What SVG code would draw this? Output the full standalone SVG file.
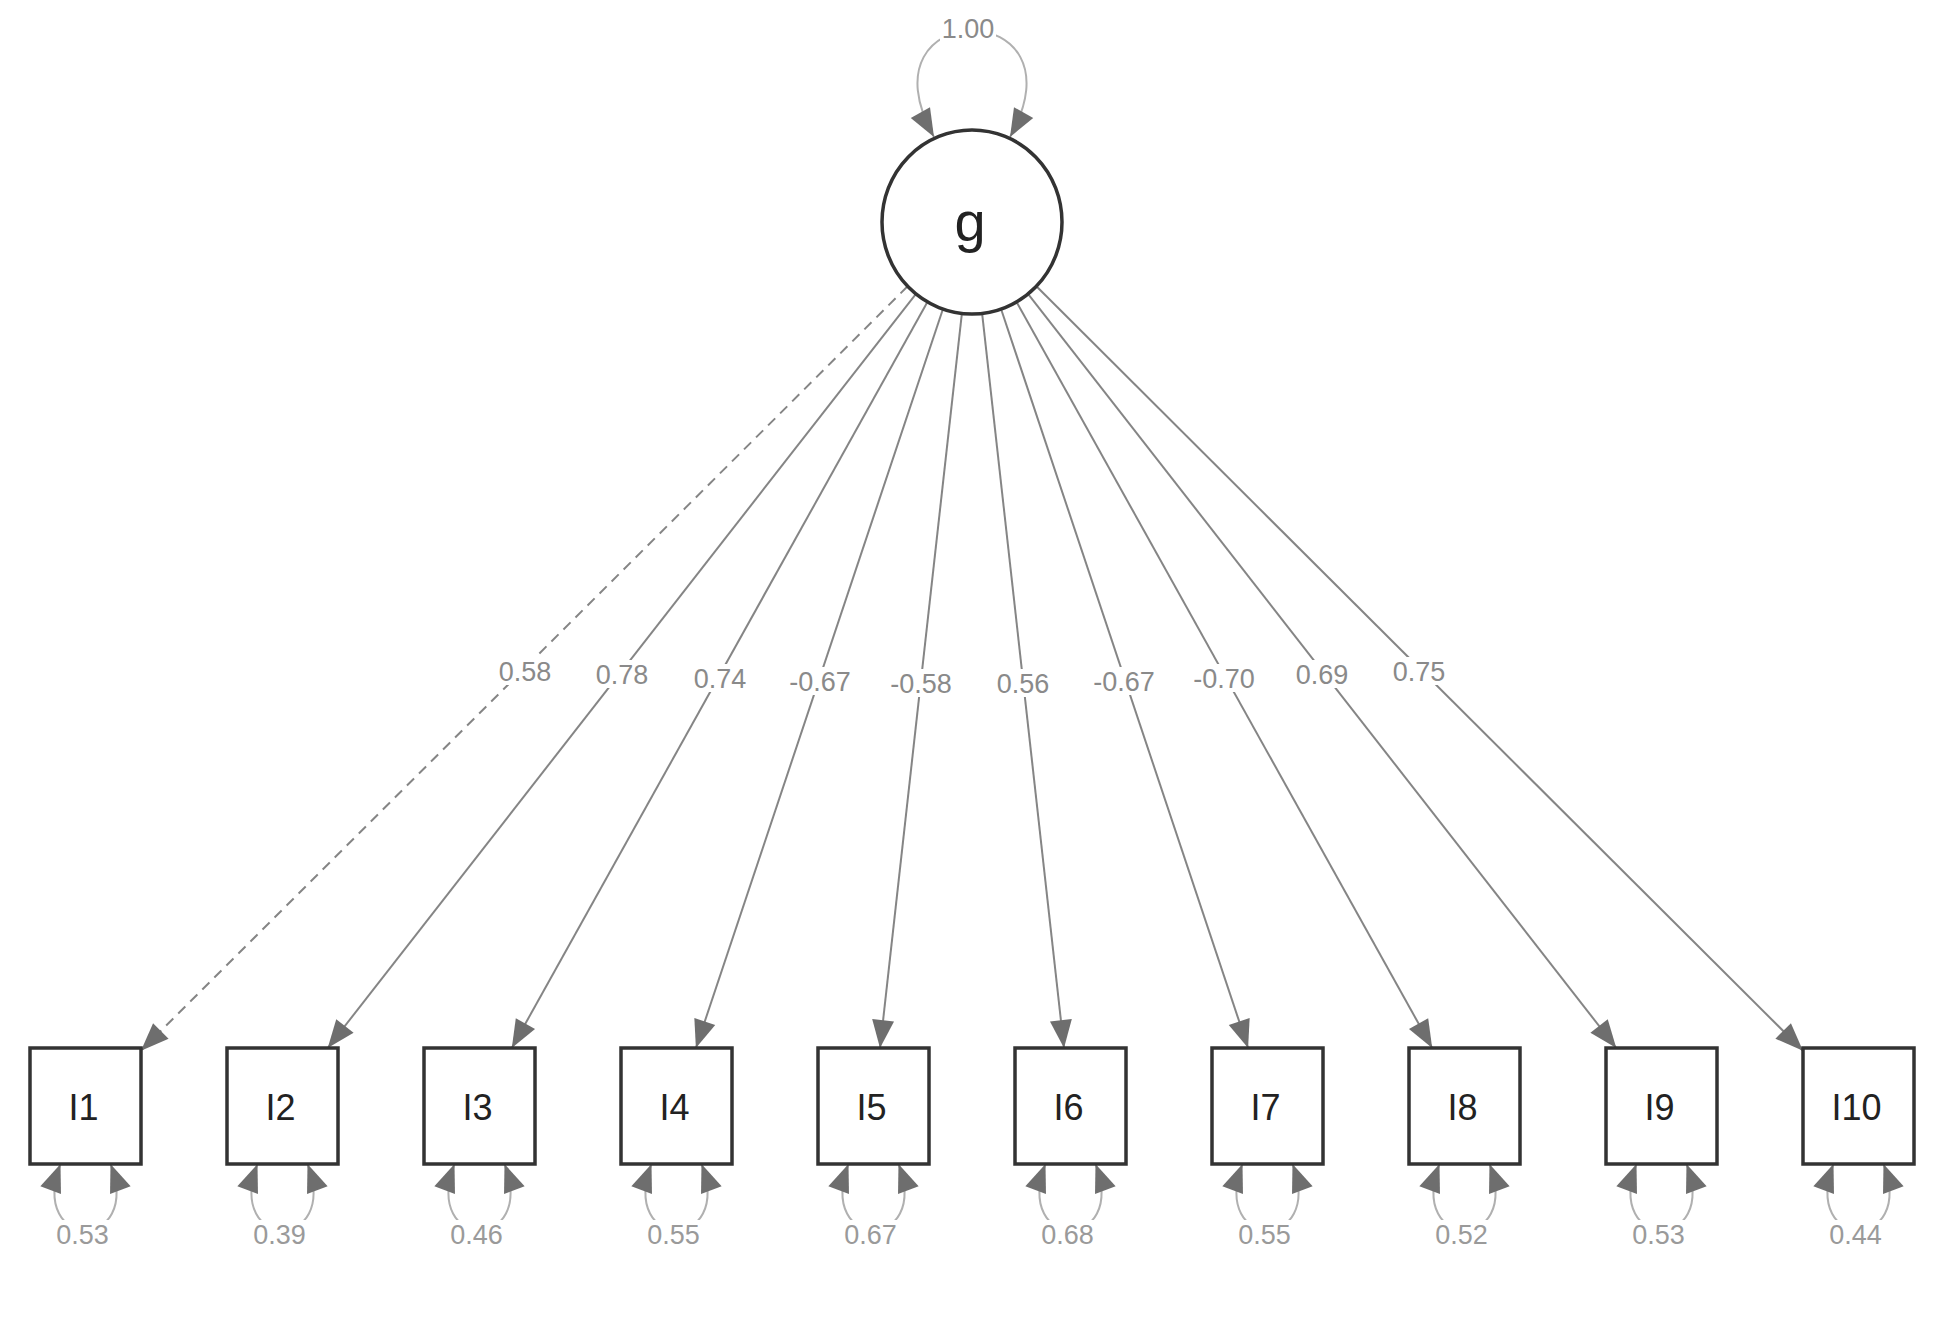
<svg xmlns="http://www.w3.org/2000/svg" width="1958" height="1327" viewBox="0 0 1958 1327">
<style>
.node{fill:#fff;stroke:#333;stroke-width:3.5}
.nlab{font-family:"Liberation Sans",Arial,sans-serif;font-size:36px;fill:#222;text-anchor:middle}
.edge{fill:none;stroke:#858585;stroke-width:2}
.dash{stroke-dasharray:10 7}
.loop{fill:none;stroke:#b0b0b0;stroke-width:2}
.elab{font-family:"Liberation Sans",Arial,sans-serif;font-size:27px;fill:#8a8a8a;text-anchor:middle}
.rlab{font-family:"Liberation Sans",Arial,sans-serif;font-size:27px;fill:#9a9a9a;text-anchor:middle}
.bg{fill:#fff}
</style>
<defs>
<marker id="ah" viewBox="-30 -12 32 24" markerWidth="32" markerHeight="24" refX="0" refY="0" markerUnits="userSpaceOnUse" orient="auto-start-reverse">
<path d="M0,0 L-28,-11 L-28,11 Z" fill="#6e6e6e"/>
</marker>
</defs>
<rect width="1958" height="1327" fill="#fff"/>
<g id="connectors">
<path class="edge dash" d="M907.6,286.3 L141,1050.7" marker-end="url(#ah)"/>
<path class="edge" d="M916,293.8 L327.7,1048" marker-end="url(#ah)"/>
<path class="edge" d="M927.7,301.5 L511.8,1048" marker-end="url(#ah)"/>
<path class="edge" d="M943.2,308.3 L695.9,1048" marker-end="url(#ah)"/>
<path class="edge" d="M962,312.4 L880,1048" marker-end="url(#ah)"/>
<path class="edge" d="M982,312.4 L1064,1048" marker-end="url(#ah)"/>
<path class="edge" d="M1000.8,308.3 L1248.1,1048" marker-end="url(#ah)"/>
<path class="edge" d="M1016.3,301.5 L1432.2,1048" marker-end="url(#ah)"/>
<path class="edge" d="M1028,293.8 L1616.3,1048" marker-end="url(#ah)"/>
<path class="edge" d="M1036.4,286.3 L1803,1050.7" marker-end="url(#ah)"/>
<path class="loop" d="M934,137 C855,-5 1089,-5 1010,137" marker-start="url(#ah)" marker-end="url(#ah)"/>
<path class="loop" d="M60.5,1164 C27.5,1252 143.5,1252 110.5,1164" marker-start="url(#ah)" marker-end="url(#ah)"/>
<path class="loop" d="M257.5,1164 C224.5,1252 340.5,1252 307.5,1164" marker-start="url(#ah)" marker-end="url(#ah)"/>
<path class="loop" d="M454.5,1164 C421.5,1252 537.5,1252 504.5,1164" marker-start="url(#ah)" marker-end="url(#ah)"/>
<path class="loop" d="M651.5,1164 C618.5,1252 734.5,1252 701.5,1164" marker-start="url(#ah)" marker-end="url(#ah)"/>
<path class="loop" d="M848.5,1164 C815.5,1252 931.5,1252 898.5,1164" marker-start="url(#ah)" marker-end="url(#ah)"/>
<path class="loop" d="M1045.5,1164 C1012.5,1252 1128.5,1252 1095.5,1164" marker-start="url(#ah)" marker-end="url(#ah)"/>
<path class="loop" d="M1242.5,1164 C1209.5,1252 1325.5,1252 1292.5,1164" marker-start="url(#ah)" marker-end="url(#ah)"/>
<path class="loop" d="M1439.5,1164 C1406.5,1252 1522.5,1252 1489.5,1164" marker-start="url(#ah)" marker-end="url(#ah)"/>
<path class="loop" d="M1636.5,1164 C1603.5,1252 1719.5,1252 1686.5,1164" marker-start="url(#ah)" marker-end="url(#ah)"/>
<path class="loop" d="M1833.5,1164 C1800.5,1252 1916.5,1252 1883.5,1164" marker-start="url(#ah)" marker-end="url(#ah)"/>
<g id="edge-labels">
<rect class="bg" x="940" y="14" width="56" height="28"/>
<text class="elab" x="968" y="37.5">1.00</text>
<rect class="bg" x="497" y="657" width="56" height="28"/>
<text class="elab" x="525" y="680.5">0.58</text>
<rect class="bg" x="594" y="660" width="56" height="28"/>
<text class="elab" x="622" y="683.5">0.78</text>
<rect class="bg" x="692" y="664" width="56" height="28"/>
<text class="elab" x="720" y="687.5">0.74</text>
<rect class="bg" x="786" y="667" width="68" height="28"/>
<text class="elab" x="820" y="690.5">-0.67</text>
<rect class="bg" x="887" y="669" width="68" height="28"/>
<text class="elab" x="921" y="692.5">-0.58</text>
<rect class="bg" x="995" y="669" width="56" height="28"/>
<text class="elab" x="1023" y="692.5">0.56</text>
<rect class="bg" x="1090" y="667" width="68" height="28"/>
<text class="elab" x="1124" y="690.5">-0.67</text>
<rect class="bg" x="1190" y="664" width="68" height="28"/>
<text class="elab" x="1224" y="687.5">-0.70</text>
<rect class="bg" x="1294" y="660" width="56" height="28"/>
<text class="elab" x="1322" y="683.5">0.69</text>
<rect class="bg" x="1391" y="657" width="56" height="28"/>
<text class="elab" x="1419" y="680.5">0.75</text>
</g>
<g id="residual-labels">
<rect class="bg" x="54.5" y="1220" width="56" height="28"/>
<text class="rlab" x="82.5" y="1243.5">0.53</text>
<rect class="bg" x="251.5" y="1220" width="56" height="28"/>
<text class="rlab" x="279.5" y="1243.5">0.39</text>
<rect class="bg" x="448.5" y="1220" width="56" height="28"/>
<text class="rlab" x="476.5" y="1243.5">0.46</text>
<rect class="bg" x="645.5" y="1220" width="56" height="28"/>
<text class="rlab" x="673.5" y="1243.5">0.55</text>
<rect class="bg" x="842.5" y="1220" width="56" height="28"/>
<text class="rlab" x="870.5" y="1243.5">0.67</text>
<rect class="bg" x="1039.5" y="1220" width="56" height="28"/>
<text class="rlab" x="1067.5" y="1243.5">0.68</text>
<rect class="bg" x="1236.5" y="1220" width="56" height="28"/>
<text class="rlab" x="1264.5" y="1243.5">0.55</text>
<rect class="bg" x="1433.5" y="1220" width="56" height="28"/>
<text class="rlab" x="1461.5" y="1243.5">0.52</text>
<rect class="bg" x="1630.5" y="1220" width="56" height="28"/>
<text class="rlab" x="1658.5" y="1243.5">0.53</text>
<rect class="bg" x="1827.5" y="1220" width="56" height="28"/>
<text class="rlab" x="1855.5" y="1243.5">0.44</text>
</g>
</g>
<g id="g">
<ellipse class="node" cx="972" cy="222" rx="90" ry="92"/>
<text x="970" y="241" font-family="Liberation Sans, Arial, sans-serif" font-size="56" fill="#222" text-anchor="middle">g</text>
</g>
<g id="I1"><rect class="node" x="30" y="1048" width="111" height="116"/><text class="nlab" x="83.5" y="1120">I1</text></g>
<g id="I2"><rect class="node" x="227" y="1048" width="111" height="116"/><text class="nlab" x="280.5" y="1120">I2</text></g>
<g id="I3"><rect class="node" x="424" y="1048" width="111" height="116"/><text class="nlab" x="477.5" y="1120">I3</text></g>
<g id="I4"><rect class="node" x="621" y="1048" width="111" height="116"/><text class="nlab" x="674.5" y="1120">I4</text></g>
<g id="I5"><rect class="node" x="818" y="1048" width="111" height="116"/><text class="nlab" x="871.5" y="1120">I5</text></g>
<g id="I6"><rect class="node" x="1015" y="1048" width="111" height="116"/><text class="nlab" x="1068.5" y="1120">I6</text></g>
<g id="I7"><rect class="node" x="1212" y="1048" width="111" height="116"/><text class="nlab" x="1265.5" y="1120">I7</text></g>
<g id="I8"><rect class="node" x="1409" y="1048" width="111" height="116"/><text class="nlab" x="1462.5" y="1120">I8</text></g>
<g id="I9"><rect class="node" x="1606" y="1048" width="111" height="116"/><text class="nlab" x="1659.5" y="1120">I9</text></g>
<g id="I10"><rect class="node" x="1803" y="1048" width="111" height="116"/><text class="nlab" x="1856.5" y="1120">I10</text></g>
</svg>
